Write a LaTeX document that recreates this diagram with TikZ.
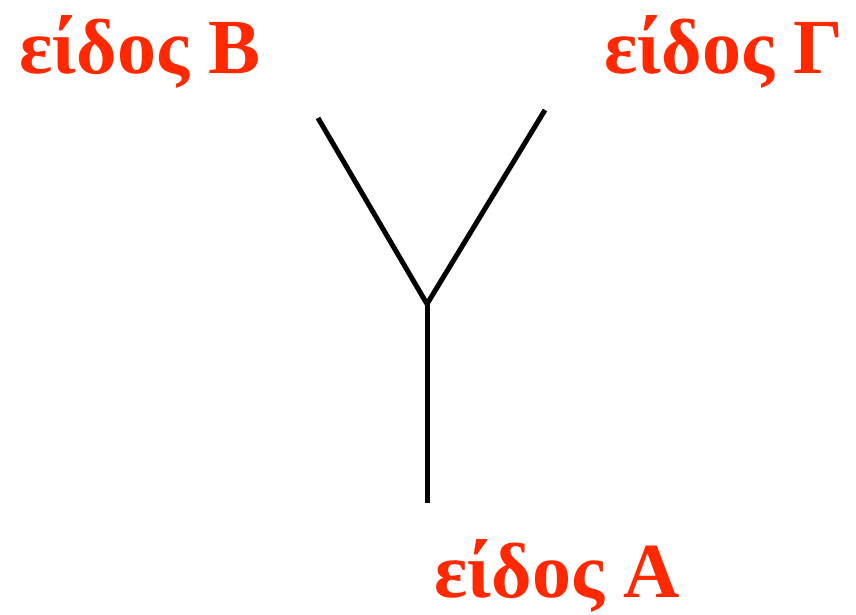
\documentclass[tikz,border=0pt]{standalone}
\usepackage{fontspec}
\setmainfont{Liberation Serif}
\usepackage{tikz}
\usetikzlibrary{positioning}
\definecolor{labelred}{RGB}{255,40,0}

\begin{document}
\begin{tikzpicture}[
  x=1pt, y=-1pt,
  species/.style={text=labelred, font=\fontsize{78}{84}\selectfont\bfseries, inner sep=0pt, anchor=base west},
  branch/.style={line width=5pt}
]
\useasboundingbox (0,0) rectangle (856,615);

\coordinate (fork) at (427,304);
\coordinate (tipB) at (318,118);
\coordinate (tipG) at (545,110);
\coordinate (root) at (427,503);

\draw[branch] (tipB) -- (fork) -- (tipG);
\draw[branch] (fork) -- (root);

\node[species] (B) at (19,74) {είδος Β};
\node[species] (G) at (604,74) {είδος Γ};
\node[species] (A) at (434,597) {είδος Α};
\end{tikzpicture}
\end{document}
